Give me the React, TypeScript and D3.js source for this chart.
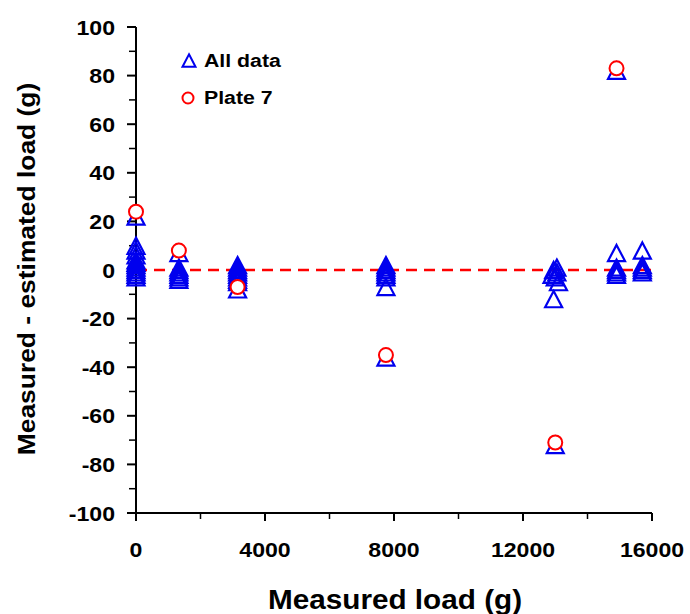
import React from "react";
import * as d3 from "d3";

const allX = [
  0, 0, 0, 0, 0, 0, 0, 0, 0, 0, 0, 0,
  1330, 1330, 1330, 1330, 1330, 1330, 1330,
  3150, 3150, 3150, 3150, 3150, 3150, 3150, 3150, 3150,
  7750, 7750, 7750, 7750, 7750, 7750, 7750, 7750,
  13050, 12950, 13050, 12900, 13000, 13100, 12950, 13000,
  14900, 14900, 14900, 14900, 14900, 14900,
  15700, 15700, 15700, 15700, 15700,
];
const allY = [
  22, 10, 8, 6, 4, 3, 2, 1, 0, -1, -2, -3,
  7, 1, 0, -1, -2, -3, -4,
  2, 1, 0, -1, -2, -3, -4, -5, -8,
  2, 1, 0, -1, -2, -3, -7, -36,
  1, 0, -1, -2, -3, -5, -12, -72,
  82, 7, 1, 0, -1, -2,
  8, 2, 1, 0, -1,
];
const plateX = [0, 1330, 3150, 7750, 13000, 14900];
const plateY = [24, 8, -7, -35, -71, 83];

const xTicks = [0, 4000, 8000, 12000, 16000];
const xMinor = [2000, 6000, 10000, 14000];
const yTicks = [-100, -80, -60, -40, -20, 0, 20, 40, 60, 80, 100];
const yMinor = [-90, -70, -50, -30, -10, 10, 30, 50, 70, 90];
const legendLabels = ["All data", "Plate 7"];

const W = 690, H = 614;
const L = 136, R = 652, T = 27, B = 513;
const font = "'Liberation Sans', Arial, sans-serif";
const SX = 1.1;

function tri(cx: number, cy: number, s: number) {
  const h = s * 0.95;
  return `M${cx},${cy - h / 2}L${cx + s / 2},${cy + h / 2}L${cx - s / 2},${cy + h / 2}Z`;
}

function T2(props: { x: number; y: number; size: number; anchor?: string; rot?: number; sx?: number; children: any }) {
  const { x, y, size, anchor = "start", rot = 0, sx = SX, children } = props;
  return (
    <text
      transform={`translate(${x},${y}) rotate(${rot}) scale(${sx},1)`}
      textAnchor={anchor}
      fontSize={size}
      fontWeight="bold"
    >
      {children}
    </text>
  );
}

export default function App() {
  const x = d3.scaleLinear().domain([0, 16000]).range([L, R]);
  const y = d3.scaleLinear().domain([-100, 100]).range([B, T]);
  return (
    <svg width={W} height={H} style={{ position: "absolute", left: 0, top: 0 }} fontFamily={font}>
      <rect width={W} height={H} fill="white" />
      <line x1={L} x2={L} y1={T} y2={B} stroke="black" strokeWidth={2} />
      <line x1={L} x2={R} y1={B} y2={B} stroke="black" strokeWidth={2} />
      {yTicks.map((t) => (
        <g key={"y" + t}>
          <line x1={L - 9} x2={L} y1={y(t)} y2={y(t)} stroke="black" strokeWidth={2} />
          <T2 x={L - 21} y={y(t) + 7.5} size={21} anchor="end">{t}</T2>
        </g>
      ))}
      {yMinor.map((t) => (
        <line key={"ym" + t} x1={L - 7} x2={L} y1={y(t)} y2={y(t)} stroke="black" strokeWidth={1.5} />
      ))}
      {xTicks.map((t) => (
        <g key={"x" + t}>
          <line x1={x(t)} x2={x(t)} y1={B} y2={B + 8} stroke="black" strokeWidth={2} />
          <T2 x={x(t)} y={B + 44} size={21} anchor="middle">{t}</T2>
        </g>
      ))}
      {xMinor.map((t) => (
        <line key={"xm" + t} x1={x(t)} x2={x(t)} y1={B} y2={B + 6} stroke="black" strokeWidth={1.5} />
      ))}
      <T2 x={395} y={609} size={27} anchor="middle">Measured load (g)</T2>
      <T2 x={35} y={(T + B) / 2 - 1} size={24} anchor="middle" rot={-90}>
        Measured - estimated load (g)
      </T2>
      <line x1={x(0)} x2={x(16000)} y1={y(0)} y2={y(0)} stroke="red" strokeWidth={2.5} strokeDasharray="11,7" />
      {allX.map((v, i) => (
        <path key={"a" + i} d={tri(x(v), y(allY[i]), 17)} fill="none" stroke="#0000ee" strokeWidth={2.2} />
      ))}
      {plateX.map((v, i) => (
        <circle key={"p" + i} cx={x(v)} cy={y(plateY[i])} r={7} fill="white" stroke="red" strokeWidth={2} />
      ))}
      <path d={tri(189, 60.5, 13)} fill="none" stroke="#0000ee" strokeWidth={2} />
      <T2 x={204} y={67} size={19} sx={1.12}>{legendLabels[0]}</T2>
      <circle cx={188} cy={98} r={5.5} fill="white" stroke="red" strokeWidth={2} />
      <T2 x={204} y={104} size={19} sx={1.12}>{legendLabels[1]}</T2>
    </svg>
  );
}
